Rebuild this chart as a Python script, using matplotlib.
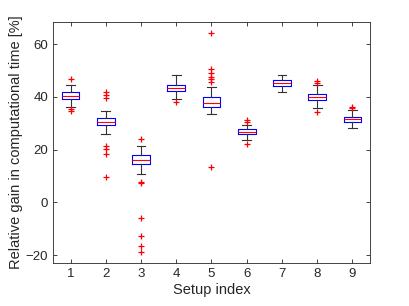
import matplotlib
matplotlib.use("Agg")
import matplotlib.pyplot as plt

plt.rcParams["font.family"] = ["Liberation Sans", "DejaVu Sans"]

setups = [1, 2, 3, 4, 5, 6, 7, 8, 9]
medians = [40.4, 30.5, 16.2, 43.4, 37.7, 26.7, 45.3, 40.1, 31.5]
q1 = [39.1, 29.2, 14.6, 42.2, 36.2, 25.8, 44.2, 39.0, 30.5]
q3 = [41.8, 32.0, 18.0, 44.6, 39.8, 27.7, 46.5, 41.0, 32.4]
whislo = [36.2, 25.8, 10.8, 39.3, 33.6, 23.8, 41.9, 35.7, 28.1]
whishi = [44.6, 34.7, 21.4, 48.2, 43.8, 29.4, 48.2, 44.4, 34.9]
outliers = [
    [46.7, 35.5, 34.8],
    [41.9, 40.8, 39.6, 21.3, 20.3, 18.5, 9.6],
    [24.1, 7.7, 7.2, -5.8, -12.8, -16.4, -18.8],
    [38.0],
    [64.3, 50.4, 49.1, 47.6, 46.9, 45.8, 13.4],
    [31.1, 30.4, 22.3],
    [],
    [46.0, 45.3, 34.2],
    [36.2, 35.7],
]

stats = []
for i in range(len(setups)):
    stats.append({"med": medians[i], "q1": q1[i], "q3": q3[i],
                  "whislo": whislo[i], "whishi": whishi[i],
                  "fliers": []})

fig = plt.figure(figsize=(4.09, 3.06), dpi=100)
ax = fig.add_axes([0.1296, 0.1405, 0.775, 0.7875])

ax.bxp(stats, positions=setups, widths=0.5, showfliers=False,
       boxprops=dict(color="#0000ff", linewidth=0.8),
       medianprops=dict(color="#ff0000", linewidth=0.8),
       whiskerprops=dict(color="#333333", linewidth=0.8),
       capprops=dict(color="#333333", linewidth=0.8))

# outliers drawn as red plus signs
for pos, vals in zip(setups, outliers):
    if vals:
        ax.plot([pos] * len(vals), vals, linestyle="none", marker="+",
                color="#ff0000", markersize=5, markeredgewidth=0.9, zorder=3)

ax.set_xlim(0.5, 9.5)
ax.set_ylim(-23, 68.4)
ax.set_xticks(setups)
ax.set_xticklabels([str(s) for s in setups])
ax.set_yticks([-20, 0, 20, 40, 60])

for sp in ax.spines.values():
    sp.set_color("#262626")
    sp.set_linewidth(0.6)
ax.tick_params(direction="in", top=True, right=True, length=3, width=0.6,
               colors="#262626", labelsize=9.5)
ax.set_xlabel("Setup index", fontsize=10.5, color="#262626", labelpad=2)
ax.set_ylabel("Relative gain in computational time [%]", fontsize=10.5,
              color="#262626", labelpad=2)

fig.savefig("out.png", dpi=100)
